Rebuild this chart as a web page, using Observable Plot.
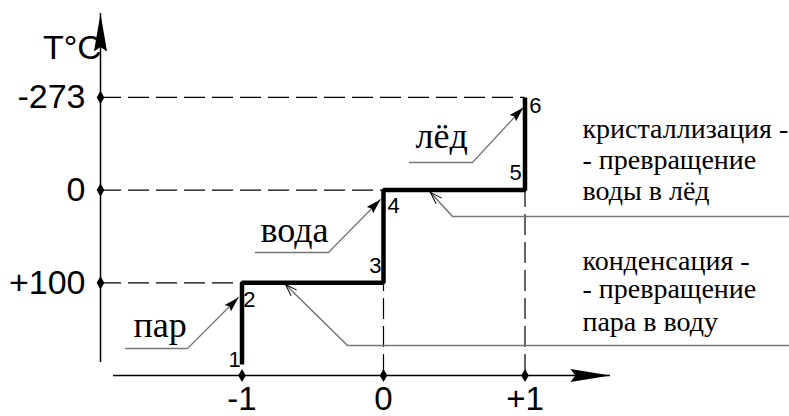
<!DOCTYPE html>
<html><head><meta charset="utf-8">
<script src="https://cdn.jsdelivr.net/npm/d3@7"></script>
<script src="https://cdn.jsdelivr.net/npm/@observablehq/plot@0.6"></script>
<style>html,body{margin:0;padding:0;background:#fff;}</style>
</head><body><div id="chart"></div>
<script>
// ---- values ----
const xTicks = [-1, 0, 1];
const xTickLabels = ["-1", "0", "+1"];
const yLevels = [1, 2, 3];                 // schematic levels (not to scale)
const yTickLabels = ["+100", "0", "-273"];
const yTitle = "T°C";
const stepX = [-1, -1, 0, 0, 1, 1];
const stepY = [0.12, 1, 1, 2, 2, 3];
const pointNames = ["1", "2", "3", "4", "5", "6"];
const phaseNames = ["пар", "вода", "лёд"];
const noteLines = ["кристаллизация -", "- превращение", "воды в лёд",
                   "конденсация -", "- превращение", "пара в воду"];

// ---- annotation anchors (data units) ----
const axisOrigin = -2;
const yAxisSpan = [0.14, 3.905];
const xAxisSpan = [-1.908, 1.604];
const pointLabelX = [-1.053, -0.947, -0.057, 0.071, 0.933, 1.074];
const pointLabelY = [0.097, 0.734, 1.111, 1.758, 2.104, 2.837];
const pointAnchor = ["end", "start", "end", "start", "end", "start"];
const phaseX = [-1.767, -0.869, 0.226];
const phaseY = [0.410, 1.435, 2.449];
const leaderX = [[-1.823, -1.385, -1.025], [-0.905, -0.389, -0.021], [0.184, 0.629, 0.989]];
const leaderY = [[0.291, 0.291, 0.841], [1.327, 1.327, 1.899], [2.298, 2.298, 2.891]];
const noteX = 1.406;
const noteY = [2.567, 2.233, 1.888, 1.133, 0.831, 0.475];
const thinX = [[2.87, 0.488, 0.332], [2.87, -0.254, -0.693]];
const thinY = [[1.715, 1.715, 1.974], [0.324, 0.324, 0.982]];

// ---- arrowhead symbols ----
const filledHead = (len, hw, notch) => ({draw(ctx) {
  ctx.moveTo(0, 0); ctx.lineTo(hw, len); ctx.lineTo(0, len * notch); ctx.lineTo(-hw, len); ctx.closePath();
}});
const openHead = (len, hw) => ({draw(ctx) {
  ctx.moveTo(-hw, len); ctx.lineTo(0, 0); ctx.lineTo(hw, len);
}});

const step = stepX.map((x, i) => ({x, y: stepY[i]}));
const leaders = leaderX.flatMap((xs, k) => xs.map((x, j) => ({x, y: leaderY[k][j], k})));
const thins = thinX.flatMap((xs, k) => xs.map((x, j) => ({x, y: thinY[k][j], k})));
const leaderTips = leaderX.map((xs, k) => ({x: xs[2], y: leaderY[k][2]}));
const thinTips = thinX.map((xs, k) => ({x: xs[2], y: thinY[k][2]}));

const SERIF = "Liberation Serif";
const SANS = "Liberation Sans";

const chart = Plot.plot({
  width: 789,
  height: 416,
  margin: 0,
  x: {domain: [-2, 3], range: [100, 807.5], axis: null},
  y: {domain: [0, 4], range: [375, 4.2], axis: null},
  marks: [
    // dashed guides
    Plot.ruleY(yLevels, {y: d => d, x1: () => axisOrigin, x2: (d, i) => xTicks[i], stroke: "black", strokeWidth: 1.2, strokeDasharray: "21,7"}),
    Plot.ruleX(xTicks.slice(1), {x: d => d, y1: () => 0, y2: (d, i) => yLevels[i], stroke: "black", strokeWidth: 1.2, strokeDasharray: "21,7"}),
    // axes
    Plot.ruleX([axisOrigin], {x: d => d, y1: () => yAxisSpan[0], y2: () => yAxisSpan[1], stroke: "black", strokeWidth: 1.5}),
    Plot.ruleY([0], {y: d => d, x1: () => xAxisSpan[0], x2: () => xAxisSpan[1], stroke: "black", strokeWidth: 1.5}),
    Plot.dot([{x: axisOrigin, y: yAxisSpan[1]}], {x: "x", y: "y", symbol: filledHead(38, 6.5, 0.88), fill: "black", stroke: "none"}),
    Plot.dot([{x: xAxisSpan[1], y: 0}], {x: "x", y: "y", symbol: filledHead(40, 6.5, 0.88), rotate: 90, fill: "black", stroke: "none"}),
    Plot.dot(yLevels, {x: () => axisOrigin, y: d => d, symbol: "diamond", r: 4, fill: "black", stroke: "none"}),
    Plot.dot(xTicks, {x: d => d, y: () => 0, symbol: "diamond", r: 4, fill: "black", stroke: "none"}),
    // tick labels
    Plot.text(yTickLabels, {x: () => -2.106, y: (d, i) => yLevels[i], text: d => d, textAnchor: "end", lineAnchor: "middle", fontSize: 34, fontFamily: SANS}),
    Plot.text(xTickLabels, {x: (d, i) => xTicks[i], y: () => -0.255, text: d => d, textAnchor: "middle", lineAnchor: "middle", fontSize: 33, fontFamily: SANS}),
    Plot.text([yTitle], {x: () => -1.99, y: () => 3.533, text: d => d, textAnchor: "end", lineAnchor: "middle", fontSize: 34, fontFamily: SANS}),
    // leaders (phase labels)
    Plot.line(leaders, {x: "x", y: "y", z: "k", stroke: "#777", strokeWidth: 1.3}),
    Plot.dot(leaderTips, {x: "x", y: "y", symbol: filledHead(15, 4.5, 0.85), rotate: 45, fill: "black", stroke: "none"}),
    Plot.text(phaseNames, {x: (d, i) => phaseX[i], y: (d, i) => phaseY[i], text: d => d, textAnchor: "start", lineAnchor: "bottom", fontSize: 36, fontFamily: SERIF}),
    // thin arrows (process notes)
    Plot.line(thins, {x: "x", y: "y", z: "k", stroke: "#777", strokeWidth: 1.6}),
    Plot.dot(thinTips, {x: "x", y: "y", symbol: openHead(12, 4), rotate: -45, fill: "none", stroke: "black", strokeWidth: 1}),
    Plot.text(noteLines, {x: () => noteX, y: (d, i) => noteY[i], text: d => d, textAnchor: "start", lineAnchor: "bottom", fontSize: 28, fontFamily: SERIF}),
    // step line
    Plot.line(step, {x: "x", y: "y", stroke: "black", strokeWidth: 4.5, strokeLinejoin: "miter", strokeLinecap: "butt"}),
    Plot.text(pointNames, {x: (d, i) => pointLabelX[i], y: (d, i) => pointLabelY[i], text: d => d, textAnchor: (d, i) => pointAnchor[i], lineAnchor: "bottom", fontSize: 22, fontFamily: SANS})
  ]
});
document.getElementById("chart").appendChild(chart);
</script>
</body></html>
